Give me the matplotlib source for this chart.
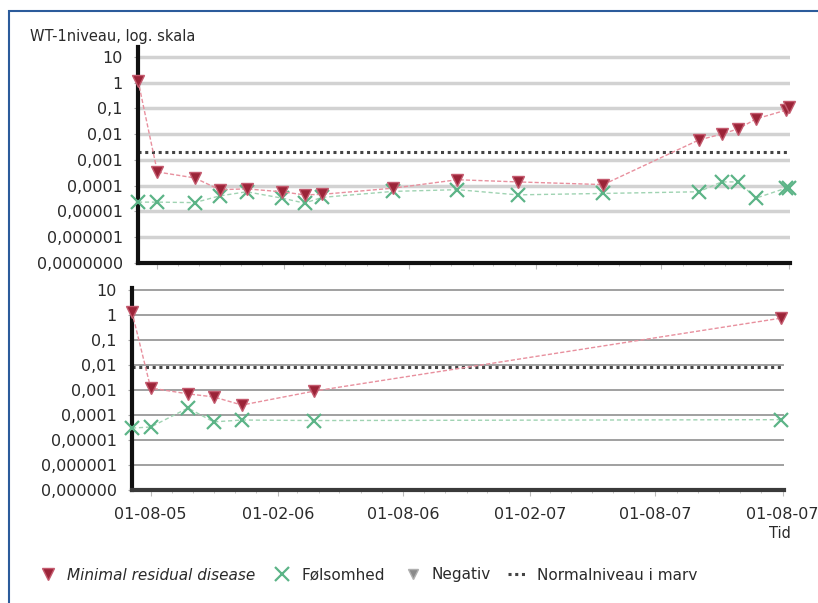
import matplotlib
matplotlib.use("Agg")
import matplotlib.pyplot as plt
import matplotlib.dates as mdates
from matplotlib.patches import Rectangle
import numpy as np

# --- data ------------------------------------------------------------------
top_mrd_dates = ["2005-07-05", "2005-08-02", "2005-09-25", "2005-10-31", "2005-12-09",
                 "2006-01-29", "2006-03-03", "2006-03-28", "2006-07-09", "2006-10-10",
                 "2007-01-05", "2007-05-09", "2007-09-24", "2007-10-27", "2007-11-20",
                 "2007-12-16", "2008-01-28", "2008-02-02"]
top_mrd_values = [1.2, 3.4e-4, 2e-4, 7e-5, 7.5e-5, 5.8e-5, 4.4e-5, 4.6e-5, 8e-5, 1.7e-4,
                  1.4e-4, 1.1e-4, 5.9e-3, 0.01, 0.016, 0.039, 0.085, 0.11]
top_sens_dates = top_mrd_dates
top_sens_values = [2.3e-5, 2.3e-5, 2.2e-5, 4e-5, 5.8e-5, 3.3e-5, 2.1e-5, 3.5e-5, 6e-5, 7e-5,
                   4.4e-5, 5e-5, 5.8e-5, 1.4e-4, 1.4e-4, 3.3e-5, 8e-5, 8e-5]
top_normal = 0.002

bot_mrd_dates = ["2005-07-05", "2005-08-01", "2005-09-24", "2005-10-31", "2005-12-11",
                 "2006-03-25", "2008-01-30"]
bot_mrd_values = [1.3, 1.2e-3, 7e-4, 5.3e-4, 2.5e-4, 9e-4, 0.75]
bot_sens_dates = bot_mrd_dates
bot_sens_values = [3e-5, 3.3e-5, 1.9e-4, 5.3e-5, 6.3e-5, 6e-5, 6.5e-5]
bot_normal = 0.008

negativ_dates = []
negativ_values = []

x_ticks = ["2005-08-01", "2006-02-01", "2006-08-01", "2007-02-01", "2007-08-01", "2008-02-01"]
x_labels = ["01-08-05", "01-02-06", "01-08-06", "01-02-07", "01-08-07", "01-08-07"]
x_range = ["2005-07-05", "2008-02-03"]

y_ticks = [1e-7, 1e-6, 1e-5, 1e-4, 1e-3, 1e-2, 1e-1, 1, 10]
top_y_labels = ["0,0000000", "0,000001", "0,00001", "0,0001", "0,001", "0,01", "0,1", "1", "10"]
bot_y_labels = ["0,000000", "0,000001", "0,00001", "0,0001", "0,001", "0,01", "0,1", "1", "10"]

MRD_FACE = "#9b2438"
MRD_EDGE = "#c45a6e"
MRD_LINE = "#e8909e"
SENS = "#5cb487"
SENS_LINE = "#9fd3b2"
TEXT = "#2a2a2a"

W, H = 818, 603
fig = plt.figure(figsize=(W / 100, H / 100), dpi=100)
plt.rcParams["font.family"] = ["DejaVu Sans"]


def to_dt(lst):
    return [np.datetime64(d) for d in lst]


def px_axes(left, top, right, bottom):
    return fig.add_axes([left / W, 1 - bottom / H, (right - left) / W, (bottom - top) / H])


def style_panel(ax, ylabels, grid_color, grid_lw, ytop, bottom_color, show_xlabels):
    ax.set_yscale("log")
    ax.set_ylim(1e-7, ytop)
    ax.set_xlim(*to_dt(x_range))
    ax.set_yticks(y_ticks)
    ax.set_yticklabels(ylabels)
    ax.yaxis.set_minor_locator(matplotlib.ticker.NullLocator())
    ax.set_xticks(to_dt(x_ticks))
    if show_xlabels:
        ax.set_xticklabels(x_labels)
    else:
        ax.set_xticklabels([])
    ax.xaxis.set_minor_locator(mdates.MonthLocator())
    ax.tick_params(axis="y", length=3, color="#aaaaaa", pad=8, labelsize=11.5, labelcolor=TEXT)
    ax.tick_params(axis="x", which="both", length=4, color="#bbbbbb", pad=8, labelsize=11.5,
                   labelcolor=TEXT)
    ax.tick_params(axis="x", which="minor", length=2)
    for t in y_ticks[1:]:
        ax.axhline(t, color=grid_color, lw=grid_lw, zorder=0)
    ax.spines["top"].set_visible(False)
    ax.spines["right"].set_visible(False)
    ax.spines["left"].set_linewidth(3)
    ax.spines["left"].set_color("#111111")
    ax.spines["bottom"].set_linewidth(3)
    ax.spines["bottom"].set_color(bottom_color)
    ax.patch.set_alpha(0)


def draw_series(ax, mrd_d, mrd_v, sens_d, sens_v, normal):
    ax.plot(to_dt(x_range), [normal, normal], color="#444444", lw=2.2,
            linestyle=(0, (1, 1.2)), zorder=2, label="Normalniveau i marv")
    ax.plot(to_dt(sens_d), sens_v, color=SENS_LINE, lw=1, linestyle=(0, (3, 2)), zorder=3)
    ax.plot(to_dt(sens_d), sens_v, linestyle="none", marker="x", ms=10, mew=1.6,
            color=SENS, zorder=4, label="Følsomhed", clip_on=False)
    ax.plot(to_dt(mrd_d), mrd_v, color=MRD_LINE, lw=1, linestyle=(0, (3, 1.5)), zorder=5)
    ax.plot(to_dt(mrd_d), mrd_v, linestyle="none", marker="v", ms=9, mfc=MRD_FACE,
            mec=MRD_EDGE, mew=1, zorder=6, label="Minimal residual disease", clip_on=False)
    ax.plot(to_dt(negativ_dates) if negativ_dates else [], negativ_values, linestyle="none",
            marker="v", ms=7, mfc="#8a8a8a", mec="#b0b0b0", label="Negativ")


ax1 = px_axes(138, 47, 790, 263)
style_panel(ax1, top_y_labels, "#d2d2d2", 2.5, 10 ** 1.38, "#111111", False)
draw_series(ax1, top_mrd_dates, top_mrd_values, top_sens_dates, top_sens_values, top_normal)

ax2 = px_axes(132, 288, 784, 490)
style_panel(ax2, bot_y_labels, "#a0a0a0", 1.4, 10 ** 1.08, "#3a3a3a", True)
draw_series(ax2, bot_mrd_dates, bot_mrd_values, bot_sens_dates, bot_sens_values, bot_normal)

fig.text(30 / W, 1 - 37 / H, "WT-1niveau, log. skala", ha="left", va="center", fontsize=10.5,
         color=TEXT)
fig.text(791 / W, 1 - 533 / H, "Tid", ha="right", va="center", fontsize=10.5, color=TEXT)

# legend in the order of the reference
h, l = ax1.get_legend_handles_labels()
order = ["Minimal residual disease", "Følsomhed", "Negativ", "Normalniveau i marv"]
handles = [h[l.index(name)] for name in order]
leg = fig.legend(handles, order, loc="center left", bbox_to_anchor=(30 / W, 1 - 575 / H),
                 ncol=4, frameon=False, fontsize=11, handlelength=1.3, handletextpad=0.6,
                 columnspacing=1.15, borderpad=0, labelcolor=TEXT)
leg.get_texts()[0].set_fontstyle("italic")

# blue frame around the whole graphic
fig.patches.append(Rectangle((9 / W, -0.2), 1.2, 1.2 - 11 / H, transform=fig.transFigure,
                             fill=False, edgecolor="#2b5b9b", lw=1.5))

fig.savefig("out.png", dpi=100)
